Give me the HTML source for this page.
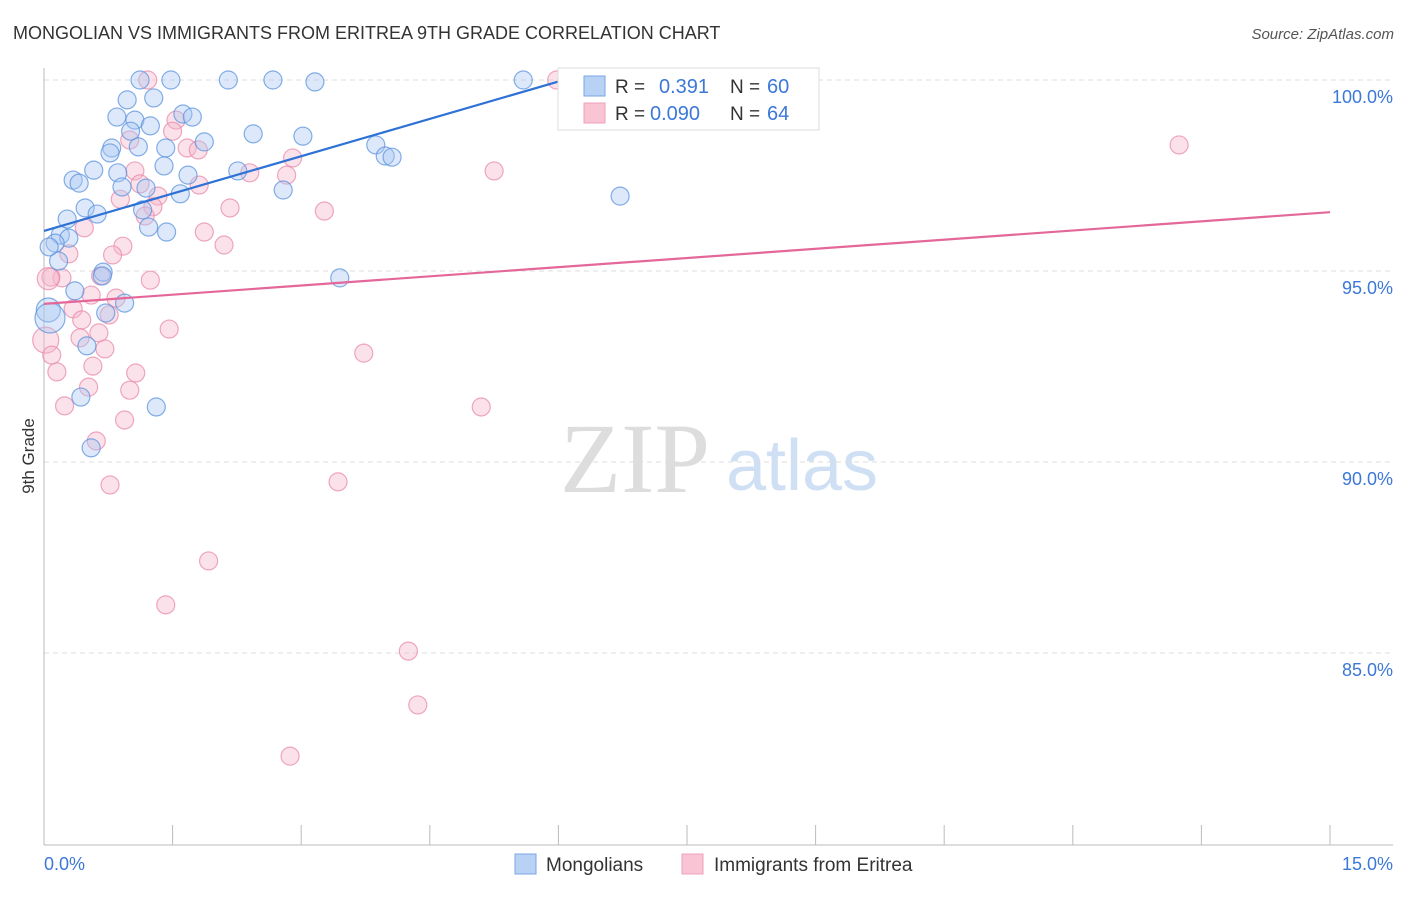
<!DOCTYPE html>
<html><head><meta charset="utf-8">
<style>
html,body{margin:0;padding:0;background:#fff;}
body{width:1406px;height:892px;overflow:hidden;font-family:"Liberation Sans",sans-serif;}
</style></head>
<body>
<svg id="chart" width="1406" height="892" viewBox="0 0 1406 892" xmlns="http://www.w3.org/2000/svg">
<text x="13" y="39" font-size="18" fill="#333" font-family="Liberation Sans, sans-serif">MONGOLIAN VS IMMIGRANTS FROM ERITREA 9TH GRADE CORRELATION CHART</text>
<text x="1394" y="39" font-size="15" fill="#555" text-anchor="end" font-style="italic">Source: ZipAtlas.com</text>
<text x="34" y="456" font-size="17" fill="#333" text-anchor="middle" transform="rotate(-90 34 456)">9th Grade</text>
<g>
<text x="635" y="492" font-size="100" fill="#ddd" text-anchor="middle" font-family="Liberation Serif, serif">ZIP</text>
<text x="802" y="490" font-size="72" fill="#cfe0f5" text-anchor="middle">atlas</text>
</g>
<g id="grid"></g>
<g id="axes"></g>
<g id="points"></g>
<g id="lines"></g>
<g>
<rect x="558" y="68" width="261" height="62" fill="#fff" stroke="#ddd"/>
<rect x="584" y="76" width="21" height="20" fill="#b8d2f6" stroke="#7aa6e4"/>
<rect x="584" y="103" width="21" height="20" fill="#f9c4d4" stroke="#eda0ba"/>
<text x="615" y="93" font-size="19" fill="#333">R = </text>
<text x="659" y="93" font-size="20" fill="#3b78d8">0.391</text>
<text x="730" y="93" font-size="19" fill="#333">N = </text>
<text x="767" y="93" font-size="20" fill="#3b78d8">60</text>
<text x="615" y="120" font-size="19" fill="#333">R = </text>
<text x="650" y="120" font-size="20" fill="#3b78d8">0.090</text>
<text x="730" y="120" font-size="19" fill="#333">N = </text>
<text x="767" y="120" font-size="20" fill="#3b78d8">64</text>
</g>
<g>
<rect x="515" y="854" width="21" height="20" fill="#b8d2f6" stroke="#7aa6e4"/>
<text x="546" y="871" font-size="19" fill="#333">Mongolians</text>
<rect x="682" y="854" width="21" height="20" fill="#f9c4d4" stroke="#eda0ba"/>
<text x="714" y="871" font-size="19" fill="#333">Immigrants from Eritrea</text>
</g>
</svg>
<script>
const yTicks=[85,90,95,100];
const yTickLabels=["85.0%","90.0%","95.0%","100.0%"];
const xTicks=[0,1.5,3,4.5,6,7.5,9,10.5,12,13.5,15];
const xEndLabels=["0.0%","15.0%"];
const blueX=[1.12,1.48,2.15,2.67,3.16,5.59,0.97,1.28,0.85,1.06,1.62,1.73,1.24,1.01,1.87,2.44,3.02,3.87,3.98,4.06,0.79,0.77,1.10,1.42,1.40,0.58,0.86,1.68,2.26,0.34,0.41,0.91,1.19,1.59,2.79,6.72,0.48,0.62,0.27,1.15,1.22,1.43,0.19,0.29,0.13,0.06,0.17,0.69,0.68,3.45,0.36,0.94,0.72,0.05,0.07,0.50,0.43,1.31,0.55];
const blueY=[100,100,100,100,99.95,100,99.48,99.53,99.03,98.95,99.11,99.03,98.80,98.66,98.38,98.59,98.53,98.30,98.01,97.98,98.22,98.09,98.25,98.22,97.75,97.64,97.57,97.51,97.62,97.38,97.30,97.20,97.17,97.02,97.12,96.96,96.65,96.49,96.36,96.60,96.15,96.02,95.94,95.86,95.73,95.63,95.26,94.97,94.87,94.82,94.48,94.16,93.90,93.98,93.77,93.04,91.70,91.44,90.37];
const blueR=[9,9,9,9,9,9,9,9,9,9,9,9,9,9,9,9,9,9,9,9,9,9,9,9,9,9,9,9,9,9,9,9,9,9,9,9,9,9,9,9,9,9,9,9,9,9,9,9,9,9,9,9,9,12,15,9,9,9,9];
const pinkX=[1.21,5.98,1.54,1.50,1.00,1.67,1.80,2.90,1.06,2.40,2.83,5.25,13.24,1.12,1.81,0.89,1.33,1.27,1.18,2.17,3.27,1.87,2.10,0.92,0.80,0.47,0.29,0.21,0.08,0.66,1.24,0.55,0.84,0.34,0.44,0.76,0.64,0.42,1.46,0.02,0.09,0.71,3.73,0.15,0.57,1.07,1.00,0.52,0.24,5.10,0.94,0.61,0.77,3.43,1.92,1.42,4.25,4.36,2.87,0.05];
const pinkY=[100,100,98.95,98.66,98.43,98.22,98.17,97.96,97.62,97.57,97.51,97.62,98.30,97.28,97.25,96.88,96.96,96.68,96.44,96.65,96.57,96.02,95.68,95.65,95.42,96.13,95.45,94.82,94.84,94.87,94.76,94.37,94.29,94.01,93.72,93.85,93.38,93.25,93.48,93.19,92.80,92.96,92.85,92.36,92.51,92.33,91.88,91.96,91.47,91.44,91.10,90.55,89.40,89.48,87.41,86.26,85.05,83.64,82.30,94.80];
const pinkR=[9,9,9,9,9,9,9,9,9,9,9,9,9,9,9,9,9,9,9,9,9,9,9,9,9,9,9,9,9,9,9,9,9,9,9,9,9,9,9,13,9,9,9,9,9,9,9,9,9,9,9,9,9,9,9,9,9,9,9,11];
const blueTrend=[[0,96.05],[6.14,100.05]];
const pinkTrend=[[0,94.14],[15,96.54]];

const NS="http://www.w3.org/2000/svg";
const X0=44,X1=1330,YTOP=80,PXPER=38.2;
function sx(v){return X0+(v/15)*(X1-X0);}
function sy(v){return YTOP+(100-v)*PXPER;}
function mk(tag,attrs,parent){const e=document.createElementNS(NS,tag);for(const k in attrs)e.setAttribute(k,attrs[k]);parent.appendChild(e);return e;}
const grid=document.getElementById('grid'),axes=document.getElementById('axes'),pts=document.getElementById('points'),lines=document.getElementById('lines');
yTicks.forEach((t,i)=>{
  const l=mk('line',{x1:X0,x2:1393,y1:sy(t),y2:sy(t),stroke:'#ddd','stroke-dasharray':'5,4'},grid);
  
  
  const tx=mk('text',{x:1393,y:sy(t)+23,'font-size':18,fill:'#3b78d8','text-anchor':'end'},axes);
  tx.textContent=yTickLabels[i];
  
  
});
const ya=mk('line',{x1:X0,x2:X0,y1:68,y2:845,stroke:'#bbb'},axes);


const xa=mk('line',{x1:X0,x2:1393,y1:845,y2:845,stroke:'#bbb'},axes);


xTicks.forEach(t=>{
  const l=mk('line',{x1:sx(t),x2:sx(t),y1:825,y2:845,stroke:'#bbb'},axes);
  
  
});
const xl0=mk('text',{x:44,y:870,'font-size':18,fill:'#3b78d8'},axes);xl0.textContent=xEndLabels[0];


const xl1=mk('text',{x:1393,y:870,'font-size':18,fill:'#3b78d8','text-anchor':'end'},axes);xl1.textContent=xEndLabels[1];


function drawPts(xs,ys,rs,fill,stroke,name){
  xs.forEach((x,i)=>{
    const c=mk('circle',{cx:sx(x),cy:sy(ys[i]),r:rs[i],fill:fill,'fill-opacity':0.4,stroke:stroke,'stroke-width':1.2,'stroke-opacity':0.75},pts);
    
    
  });
}
drawPts(pinkX,pinkY,pinkR,'#f6b6cb','#e98aab','eritrea-point');
drawPts(blueX,blueY,blueR,'#a9c9f2','#5b93dd','mongolian-point');
const bl=mk('line',{x1:sx(blueTrend[0][0]),y1:sy(blueTrend[0][1]),x2:sx(blueTrend[1][0]),y2:sy(blueTrend[1][1]),stroke:'#2f72d6','stroke-width':2.2},lines);


const pl=mk('line',{x1:sx(pinkTrend[0][0]),y1:sy(pinkTrend[0][1]),x2:sx(pinkTrend[1][0]),y2:sy(pinkTrend[1][1]),stroke:'#e4679a','stroke-width':2.2},lines);


</script>
</body></html>
